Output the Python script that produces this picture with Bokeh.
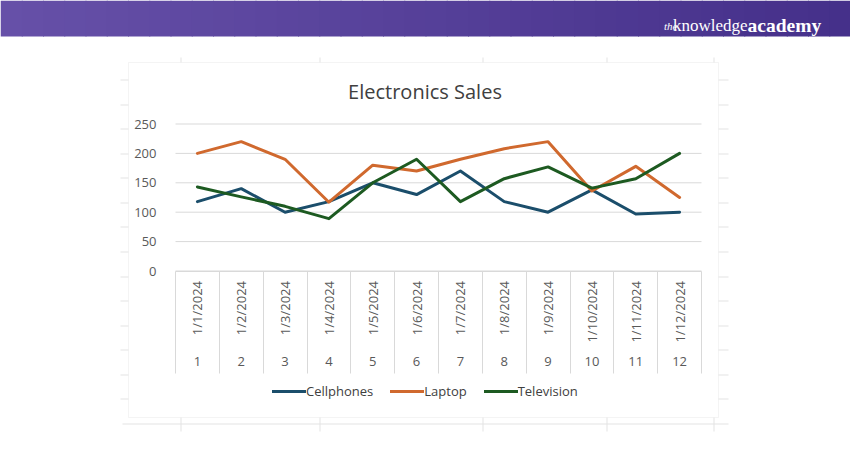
import math
from bokeh.plotting import figure
from bokeh.models import (Range1d, LinearAxis, FixedTicker, BoxAnnotation,
                          Label, Legend, LegendItem)
from bokeh.embed import file_html
from bokeh.resources import INLINE

# ---------------- data ----------------
dates = ["1/1/2024", "1/2/2024", "1/3/2024", "1/4/2024", "1/5/2024", "1/6/2024",
         "1/7/2024", "1/8/2024", "1/9/2024", "1/10/2024", "1/11/2024", "1/12/2024"]
day_numbers = ["1", "2", "3", "4", "5", "6", "7", "8", "9", "10", "11", "12"]
cellphones = [118, 140, 100, 118, 150, 130, 170, 118, 100, 138, 97, 100]
laptop = [200, 220, 190, 117, 180, 170, 190, 208, 220, 136, 178, 125]
television = [143, 126, 110, 89, 150, 190, 118, 157, 177, 141, 157, 200]
y_ticks = [0, 50, 100, 150, 200, 250]
series_names = ["Cellphones", "Laptop", "Television"]

# ---------------- layout / styles ----------------
W, H = 850, 450
M = 0  # page offset (bokeh's page template has no body margin)
FONT = "Open Sans"
GRID = "#d9d9d9"
TXT = "#595959"
colors = ["#1B4E6B", "#D0692E", "#1D5A21"]

positions = list(range(1, len(dates) + 1))
boundaries = [i - 0.5 for i in positions] + [positions[-1] + 0.5]
x_lo, x_hi = boundaries[0], boundaries[-1]
y_lo, y_hi = y_ticks[0], y_ticks[-1]

# plot-area pixel box inside the figure
PL, PR = 175 - M, 701 - M
PT, PB = 123.5 - M, 270.5 - M
kx = (PR - PL) / (x_hi - x_lo)
ky = (PB - PT) / (y_hi - y_lo)
x_range = Range1d(x_lo - PL / kx, x_hi + (W - PR) / kx)
y_range = Range1d(y_lo - (H - PB) / ky, y_hi + PT / ky)

p = figure(width=W, height=H, output_backend="svg", toolbar_location=None,
           x_range=x_range, y_range=y_range,
           x_axis_type=None, y_axis_type=None, min_border=0,
           background_fill_color="white", border_fill_color="white",
           outline_line_color=None)

# gridlines (limited to plot area)
p.segment(x0=[x_lo] * len(y_ticks), x1=[x_hi] * len(y_ticks), y0=y_ticks, y1=y_ticks,
          line_color=GRID, line_width=1)

# y axis
yaxis = LinearAxis(ticker=FixedTicker(ticks=y_ticks, minor_ticks=[]), fixed_location=x_lo,
                   axis_line_color=None,
                   major_tick_line_color=None, minor_tick_line_color=None,
                   major_label_standoff=13, major_label_text_font_size="13px",
                   major_label_text_color=TXT, major_label_text_font=FONT)
p.add_layout(yaxis, "left")

# category separators
sep_axis = LinearAxis(ticker=FixedTicker(ticks=boundaries, minor_ticks=[]), fixed_location=y_lo,
                      bounds=(x_lo, x_hi), major_tick_in=0, major_tick_out=102,
                      major_tick_line_color=GRID, minor_tick_line_color=None,
                      axis_line_color=GRID, major_label_text_color=None,
                      major_label_text_font_size="1px")
p.add_layout(sep_axis, "below")

# date labels (vertical)
date_axis = LinearAxis(ticker=FixedTicker(ticks=positions, minor_ticks=[]), fixed_location=y_lo,
                       major_label_overrides={k: d for k, d in zip(positions, dates)},
                       major_label_orientation=math.pi / 2,
                       major_tick_line_color=None, major_tick_in=0, major_tick_out=0,
                       minor_tick_line_color=None, axis_line_color=None,
                       major_label_standoff=10,
                       major_label_text_font_size="13px", major_label_text_color=TXT,
                       major_label_text_font=FONT)
p.add_layout(date_axis, "below")

# day numbers
num_axis = LinearAxis(ticker=FixedTicker(ticks=positions, minor_ticks=[]), fixed_location=y_lo,
                      major_label_overrides={k: n for k, n in zip(positions, day_numbers)},
                      major_tick_line_color=None, major_tick_in=0, major_tick_out=0,
                      minor_tick_line_color=None, axis_line_color=None,
                      major_label_standoff=86,
                      major_label_text_font_size="13px", major_label_text_color=TXT,
                      major_label_text_font=FONT)
p.add_layout(num_axis, "below")

# lines
renderers = []
for vals, c in zip([cellphones, laptop, television], colors):
    r = p.line(positions, vals, line_width=3, line_color=c, line_join="round", line_cap="round")
    renderers.append(r)

LEG_ROW = 16
legend = Legend(items=[LegendItem(label=n, renderers=[r]) for n, r in zip(series_names, renderers)],
                orientation="horizontal", location=(272 - M, H - (392 - M + LEG_ROW / 2)),
                glyph_width=34, glyph_height=LEG_ROW, label_height=LEG_ROW, label_standoff=0,
                spacing=17, padding=0, margin=0, border_line_color=None, background_fill_alpha=0,
                label_text_font_size="13px", label_text_color="#404040",
                label_text_font=FONT)
p.add_layout(legend)


def box(l, r, t, b, **kw):
    p.add_layout(BoxAnnotation(left=l - M, right=r - M, top=t - M, bottom=b - M,
                               left_units="canvas", right_units="canvas",
                               top_units="canvas", bottom_units="canvas", **kw))


# banner gradient
n = 40
c0 = (0x66, 0x50, 0xA8)
c1 = (0x45, 0x30, 0x8A)
for i in range(n):
    t = i / (n - 1)
    col = "#%02x%02x%02x" % tuple(int(round(a + (b - a) * t)) for a, b in zip(c0, c1))
    box(M + i * W / n, M + (i + 1) * W / n + 1, M, 36, fill_color=col, fill_alpha=1, line_color=None)

# logo
p.add_layout(Label(x=677 - M, y=25 - M, x_units="canvas", y_units="canvas", text="the",
                   text_align="right", text_baseline="alphabetic", text_font="Liberation Serif",
                   text_font_style="italic", text_font_size="11px", text_color="white"))
p.add_layout(Label(x=747 - M, y=25 - M, x_units="canvas", y_units="canvas", text="knowledge",
                   text_align="right", text_baseline="alphabetic", text_font="Liberation Serif",
                   text_font_size="17px", text_color="white"))
p.add_layout(Label(x=747 - M, y=25 - M, x_units="canvas", y_units="canvas", text="academy",
                   text_align="left", text_baseline="alphabetic", text_font="Liberation Serif",
                   text_font_style="bold", text_font_size="19.5px", text_color="white"))

# chart border
box(128, 718, 62, 417, fill_alpha=0, line_color=GRID, line_width=1)

# faint spreadsheet grid peeking around the chart
SHEET = "#e3e3e3"
for yy in [79, 104, 128, 153, 177, 202, 226, 251, 276, 300, 325, 349, 374, 398]:
    for x0, x1 in [(120, 128), (718, 728)]:
        box(x0, x1, yy, yy + 1, fill_color=SHEET, fill_alpha=1, line_color=None)
box(122, 728, 423, 424, fill_color=SHEET, fill_alpha=1, line_color=None)
for xx in [180, 319, 482, 606, 713]:
    for y0, y1 in [(57, 62), (417, 431)]:
        box(xx, xx + 1, y0, y1, fill_color=SHEET, fill_alpha=1, line_color=None)

# title
p.add_layout(Label(x=424.5 - M, y=91 - M, x_units="canvas", y_units="canvas",
                   text="Electronics Sales", text_align="center", text_baseline="middle",
                   text_font=FONT, text_font_size="20px", text_color="#404040"))

open("out.html", "w").write(file_html(p, INLINE))
